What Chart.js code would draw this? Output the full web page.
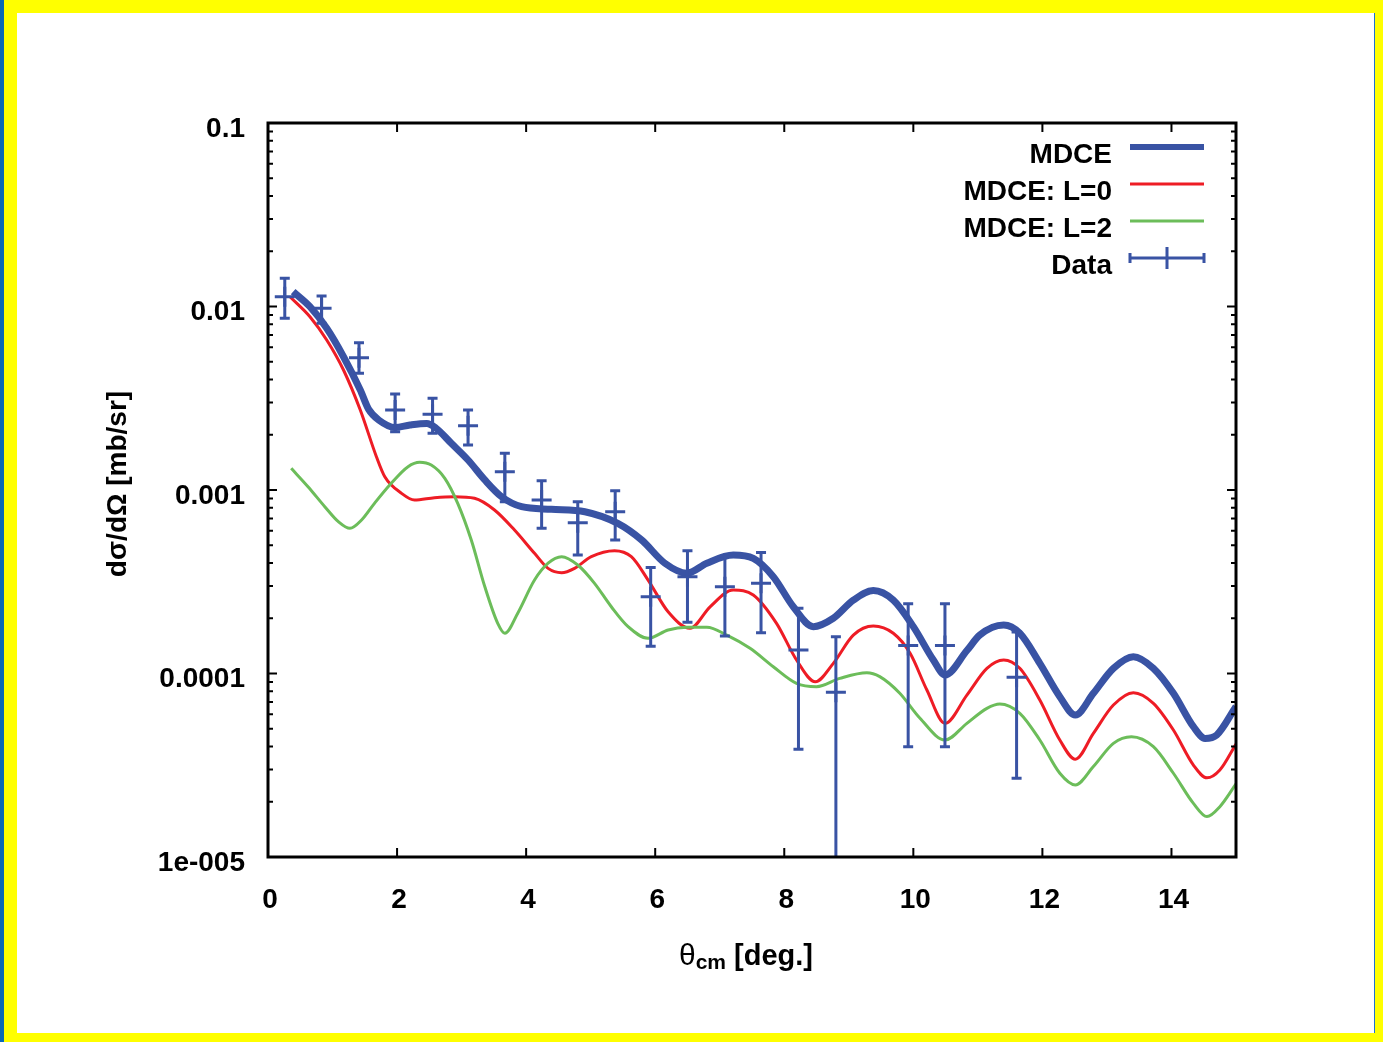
<!DOCTYPE html>
<html>
<head>
<meta charset="utf-8">
<script src="https://cdn.jsdelivr.net/npm/chart.js@4.4.0/dist/chart.umd.min.js"></script>
<style>
  html, body { margin: 0; padding: 0; }
  body { width: 1383px; height: 1042px; background: #ffff00; position: relative; overflow: hidden; }
  #edge { position: absolute; left: 0; top: 0; width: 4px; height: 1042px; background: #0b68b6; }
  #sheet { position: absolute; left: 17px; top: 13px; width: 1357px; height: 1020px; background: #fff; border-right: 1px solid #1b72d0; }
  #chart { display: block; }
</style>
</head>
<body>
<div id="edge"></div>
<div id="sheet"><canvas id="chart" width="1357" height="1020"></canvas></div>
<script>
// theta_cm [deg] / dsigma/dOmega [mb/sr]
const mdceTheta = [0.39,0.65,0.91,1.17,1.43,1.56,1.72,1.97,2.20,2.46,2.60,2.84,3.10,3.36,3.62,3.93,4.39,4.91,5.42,5.79,6.15,6.49,6.80,7.21,7.52,7.83,8.14,8.45,8.76,9.07,9.38,9.69,10.00,10.31,10.49,10.83,11.03,11.40,11.65,11.96,12.27,12.51,12.79,13.10,13.41,13.72,14.03,14.34,14.52,14.70,15.0];
const mdceSigma = [0.01204,0.009975,0.007606,0.005326,0.003507,0.00275,0.00240,0.002191,0.002260,0.002304,0.002177,0.001797,0.001457,0.001134,0.000919,0.000811,0.000785,0.000761,0.000658,0.000534,0.000399,0.000352,0.000399,0.000442,0.000424,0.000337,0.000231,0.000180,0.000200,0.000251,0.000283,0.000251,0.000180,0.0001185,0.0000981,0.0001334,0.000162,0.0001837,0.0001656,0.0001136,0.0000747,0.0000594,0.0000780,0.0001067,0.0001235,0.0001067,0.0000780,0.0000513,0.0000443,0.0000462,0.0000661];

const l0Theta = [0.34,0.65,0.91,1.17,1.43,1.68,1.81,2.07,2.27,2.58,2.89,3.20,3.51,3.82,4.13,4.34,4.55,4.75,5.01,5.37,5.63,5.89,6.20,6.54,6.85,7.21,7.52,7.88,8.19,8.48,8.76,9.07,9.38,9.69,9.95,10.21,10.49,10.83,11.14,11.40,11.65,11.96,12.27,12.51,12.79,13.10,13.41,13.72,14.03,14.34,14.55,14.75,15.0];
const l0Sigma = [0.01131,0.008799,0.006568,0.004508,0.002729,0.001519,0.001181,0.000959,0.000882,0.000908,0.000919,0.000901,0.000778,0.000605,0.000452,0.000374,0.000354,0.000374,0.000433,0.000467,0.000433,0.000323,0.000217,0.0001763,0.000231,0.000285,0.000268,0.0001877,0.0001185,0.0000902,0.0001136,0.000162,0.0001815,0.0001656,0.0001288,0.0000813,0.0000535,0.0000763,0.0001067,0.0001185,0.0001067,0.0000717,0.0000434,0.0000341,0.0000472,0.0000673,0.0000786,0.0000688,0.0000492,0.0000317,0.0000270,0.0000298,0.0000413];

const l2Theta = [0.36,0.62,0.88,1.09,1.27,1.45,1.65,1.91,2.17,2.35,2.53,2.74,2.94,3.15,3.36,3.56,3.67,3.87,4.13,4.34,4.55,4.80,5.06,5.32,5.58,5.89,6.20,6.49,6.80,7.11,7.47,7.83,8.19,8.50,8.86,9.28,9.48,9.79,10.10,10.49,10.83,11.14,11.34,11.65,11.96,12.27,12.51,12.79,13.10,13.38,13.72,14.03,14.34,14.55,14.75,15.0];
const l2Sigma = [0.001312,0.001042,0.000811,0.000672,0.000618,0.000686,0.000846,0.001088,0.001340,0.001416,0.001368,0.001158,0.000846,0.000534,0.000297,0.0001877,0.0001656,0.000213,0.000323,0.000399,0.000433,0.000390,0.000310,0.000231,0.000180,0.0001555,0.0001726,0.0001785,0.0001785,0.000162,0.0001372,0.0001089,0.0000884,0.0000848,0.0000941,0.000101,0.0000961,0.0000780,0.0000572,0.0000434,0.0000535,0.0000646,0.0000682,0.0000607,0.0000434,0.0000286,0.0000247,0.0000311,0.0000416,0.0000452,0.0000399,0.0000286,0.0000196,0.0000166,0.0000188,0.0000250];

const dataTheta = [0.26,0.83,1.41,1.97,2.55,3.10,3.67,4.24,4.80,5.38,5.93,6.50,7.08,7.64,8.22,8.80,9.92,10.49,11.60];
const dataSigma = [0.01131,0.009777,0.005260,0.002729,0.002585,0.002241,0.001258,0.000882,0.000663,0.000761,0.000262,0.000337,0.000297,0.000310,0.0001343,0.0000790,0.0001421,0.0001421,0.0000954];
const dataHigh  = [0.01424,0.01141,0.006349,0.003336,0.003160,0.002729,0.001585,0.001124,0.000864,0.000991,0.000378,0.000467,0.000437,0.000457,0.0002266,0.0001587,0.000240,0.000240,0.0001683];
const dataLow   = [0.008624,0.008100,0.004323,0.002078,0.002037,0.001758,0.000864,0.000618,0.000442,0.000534,0.0001406,0.000190,0.000160,0.000167,0.0000386,0.000001,0.0000399,0.0000399,0.0000269];

const xTicks = [0, 2, 4, 6, 8, 10, 12, 14];
const yTicks = [1e-5, 1e-4, 1e-3, 1e-2, 1e-1];
const yTickLabels = ['1e-005', '0.0001', '0.001', '0.01', '0.1'];

const seriesNames = ['MDCE', 'MDCE: L=0', 'MDCE: L=2', 'Data'];

const blue = '#3953a4';
const red = '#ee1c25';
const green = '#6cbd5a';
const FONT = '"Liberation Sans", Arial, sans-serif';

const pairs = (xs, ys) => xs.map((v, i) => ({ x: v, y: ys[i] }));

const gnuplotLook = {
    id: 'gnuplotLook',
    afterDatasetsDraw(chart) {
        const { ctx, chartArea: a, scales: { x, y } } = chart;
        ctx.save();
        ctx.beginPath();
        ctx.rect(a.left, a.top, a.right - a.left, a.bottom - a.top);
        ctx.clip();
        ctx.strokeStyle = blue;
        ctx.lineWidth = 3;
        dataTheta.forEach((t, i) => {
            const px = x.getPixelForValue(t);
            const top = y.getPixelForValue(dataHigh[i]);
            const bot = y.getPixelForValue(dataLow[i]);
            ctx.beginPath();
            ctx.moveTo(px, top); ctx.lineTo(px, bot);
            ctx.moveTo(px - 5, top); ctx.lineTo(px + 5, top);
            ctx.moveTo(px - 5, bot); ctx.lineTo(px + 5, bot);
            ctx.stroke();
        });
        ctx.restore();
    },
    afterDraw(chart) {
        const { ctx, chartArea: a, scales: { x, y } } = chart;
        ctx.save();

        // border
        ctx.strokeStyle = '#000';
        ctx.lineWidth = 3;
        ctx.strokeRect(a.left, a.top, a.right - a.left, a.bottom - a.top);

        // inward ticks, mirrored
        ctx.lineWidth = 2;
        ctx.beginPath();
        xTicks.forEach(v => {
            const px = x.getPixelForValue(v);
            ctx.moveTo(px, a.bottom); ctx.lineTo(px, a.bottom - 9);
            ctx.moveTo(px, a.top); ctx.lineTo(px, a.top + 9);
        });
        yTicks.forEach(v => {
            const py = y.getPixelForValue(v);
            ctx.moveTo(a.left, py); ctx.lineTo(a.left + 9, py);
            ctx.moveTo(a.right, py); ctx.lineTo(a.right - 9, py);
        });
        yTicks.slice(0, -1).forEach(d => {
            for (let k = 2; k <= 9; k++) {
                const py = y.getPixelForValue(k * d);
                ctx.moveTo(a.left, py); ctx.lineTo(a.left + 5, py);
                ctx.moveTo(a.right, py); ctx.lineTo(a.right - 5, py);
            }
        });
        ctx.stroke();

        // key
        const keyRight = a.right - 124;
        const sx0 = a.right - 106, sx1 = a.right - 32;
        ctx.fillStyle = '#000';
        ctx.font = 'bold 28px ' + FONT;
        ctx.textAlign = 'right';
        ctx.textBaseline = 'alphabetic';
        const base = a.top + 40;
        seriesNames.forEach((name, i) => {
            ctx.fillText(name, keyRight, base + i * 37);
        });
        const ly = i => base - 16 + i * 37;
        ctx.lineCap = 'butt';
        ctx.strokeStyle = blue; ctx.lineWidth = 6;
        ctx.beginPath(); ctx.moveTo(sx0, ly(0)); ctx.lineTo(sx1, ly(0)); ctx.stroke();
        ctx.strokeStyle = red; ctx.lineWidth = 3;
        ctx.beginPath(); ctx.moveTo(sx0, ly(1)); ctx.lineTo(sx1, ly(1)); ctx.stroke();
        ctx.strokeStyle = green; ctx.lineWidth = 3;
        ctx.beginPath(); ctx.moveTo(sx0, ly(2)); ctx.lineTo(sx1, ly(2)); ctx.stroke();
        ctx.strokeStyle = blue; ctx.lineWidth = 3;
        const dy = ly(3);
        ctx.beginPath();
        ctx.moveTo(sx0, dy); ctx.lineTo(sx1, dy);
        ctx.moveTo(sx0, dy - 5); ctx.lineTo(sx0, dy + 5);
        ctx.moveTo(sx1, dy - 5); ctx.lineTo(sx1, dy + 5);
        ctx.moveTo((sx0 + sx1) / 2, dy - 11); ctx.lineTo((sx0 + sx1) / 2, dy + 11);
        ctx.stroke();

        // y title
        ctx.save();
        ctx.translate(101, 471);
        ctx.rotate(-Math.PI / 2);
        ctx.textAlign = 'center';
        ctx.textBaseline = 'middle';
        ctx.fillStyle = '#000';
        ctx.font = 'bold 28px ' + FONT;
        ctx.fillText('d\u03c3/d\u03a9 [mb/sr]', 0, 0);
        ctx.restore();

        // x title with subscript
        const parts = [
            { t: '\u03b8', f: '30px ' + FONT, dy: 0 },
            { t: 'cm', f: 'bold 21px ' + FONT, dy: 4 },
            { t: ' [deg.]', f: 'bold 29px ' + FONT, dy: 0 }
        ];
        let w = 0;
        parts.forEach(p => { ctx.font = p.f; p.w = ctx.measureText(p.t).width; w += p.w; });
        let tx = 729 - w / 2;
        const tBase = 952;
        ctx.textAlign = 'left';
        ctx.textBaseline = 'alphabetic';
        parts.forEach(p => {
            ctx.font = p.f;
            ctx.fillText(p.t, tx, tBase + p.dy);
            tx += p.w;
        });

        ctx.restore();
    }
};

new Chart(document.getElementById('chart'), {
    type: 'line',
    data: {
        datasets: [
            {
                label: seriesNames[3],
                data: pairs(dataTheta, dataSigma),
                showLine: false,
                pointStyle: 'cross',
                pointRadius: 10,
                pointBorderWidth: 3,
                borderColor: blue,
                backgroundColor: blue,
                order: 0
            },
            {
                label: seriesNames[2],
                data: pairs(l2Theta, l2Sigma),
                borderColor: green,
                borderWidth: 3,
                pointRadius: 0,
                cubicInterpolationMode: 'monotone',
                order: 1
            },
            {
                label: seriesNames[1],
                data: pairs(l0Theta, l0Sigma),
                borderColor: red,
                borderWidth: 3,
                pointRadius: 0,
                cubicInterpolationMode: 'monotone',
                order: 2
            },
            {
                label: seriesNames[0],
                data: pairs(mdceTheta, mdceSigma),
                borderColor: blue,
                borderWidth: 7,
                pointRadius: 0,
                cubicInterpolationMode: 'monotone',
                order: 3
            }
        ]
    },
    options: {
        responsive: false,
        animation: false,
        layout: {
            padding: { top: 110, right: 138, left: 0, bottom: 0 }
        },
        plugins: {
            legend: { display: false },
            tooltip: { enabled: false }
        },
        scales: {
            x: {
                type: 'linear',
                min: 0,
                max: 15,
                afterFit: scale => { scale.height = 176; },
                afterBuildTicks: scale => { scale.ticks = xTicks.map(v => ({ value: v })); },
                grid: { display: false, drawTicks: false },
                border: { display: false },
                ticks: {
                    padding: 26,
                    labelOffset: 2,
                    color: '#000',
                    font: { family: FONT, size: 28, weight: 'bold' }
                }
            },
            y: {
                type: 'logarithmic',
                min: 1e-5,
                max: 0.1,
                afterFit: scale => { scale.width = 251; },
                afterBuildTicks: scale => { scale.ticks = yTicks.map(v => ({ value: v })); },
                grid: { display: false, drawTicks: false },
                border: { display: false },
                ticks: {
                    padding: 23,
                    labelOffset: 6,
                    color: '#000',
                    font: { family: FONT, size: 28, weight: 'bold' },
                    callback: (value, i) => yTickLabels[i]
                }
            }
        }
    },
    plugins: [gnuplotLook]
});
</script>
</body>
</html>
